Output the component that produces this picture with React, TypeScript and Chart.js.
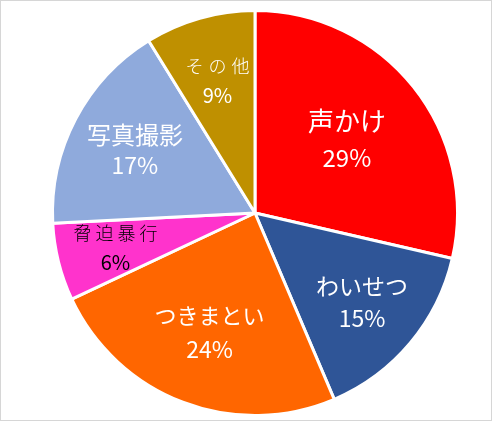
import React, { useEffect, useRef } from "react";
import { Chart, registerables } from "chart.js";

Chart.register(...registerables);

const categories = ["声かけ", "わいせつ", "つきまとい", "脅迫暴行", "写真撮影", "その他"];
const shares = [28.6, 15.0, 24.4, 6.2, 17.0, 8.8];
const sliceColors = ["#FF0000", "#2F5597", "#FF6600", "#FF33CC", "#8FAADC", "#BF9000"];

// label styling per slice
const labelRadial = [0.58, 0.69, 0.63, 0.71, 0.67, 0.68];
const nameSizes = [26, 23, 22, 18, 24, 18];
const nameWeights = [400, 400, 400, 300, 400, 300];
const pctSizes = [24, 23, 23, 20, 23, 20];
const nameSpacing = [0, 0, 0, 4, 0, 5];
const lineGaps = [37, 32, 34, 29, 31, 29];
const labelColors = ["#FFFFFF", "#FFFFFF", "#FFFFFF", "#000000", "#FFFFFF", "#FFFFFF"];

const FONT = '"Noto Sans CJK JP", "Noto Sans", sans-serif';

const labelPlugin = {
  id: "sliceLabels",
  afterDatasetsDraw(chart: any) {
    const ctx = chart.ctx;
    const meta = chart.getDatasetMeta(0);
    const total = shares.reduce((a, b) => a + b, 0);
    meta.data.forEach((arc: any, i: number) => {
      const { x, y, startAngle, endAngle, outerRadius } = arc.getProps(
        ["x", "y", "startAngle", "endAngle", "outerRadius"],
        true
      );
      const mid = (startAngle + endAngle) / 2;
      const r = outerRadius * labelRadial[i];
      const cx = x + Math.cos(mid) * r;
      const cy = y + Math.sin(mid) * r;
      const pct = Math.round((shares[i] / total) * 100) + "%";
      ctx.save();
      ctx.fillStyle = labelColors[i];
      ctx.textAlign = "center";
      ctx.textBaseline = "middle";
      ctx.font = `${nameWeights[i]} ${nameSizes[i]}px ${FONT}`;
      (ctx as any).letterSpacing = `${nameSpacing[i]}px`;
      ctx.fillText(categories[i], cx + nameSpacing[i] / 2, cy - lineGaps[i] / 2);
      (ctx as any).letterSpacing = "0px";
      ctx.font = `400 ${pctSizes[i]}px ${FONT}`;
      ctx.fillText(pct, cx, cy + lineGaps[i] / 2);
      ctx.restore();
    });
  },
};

export default function App() {
  const canvasRef = useRef<HTMLCanvasElement | null>(null);

  useEffect(() => {
    if (!canvasRef.current) return;
    const chart = new Chart(canvasRef.current, {
      type: "pie",
      data: {
        labels: categories,
        datasets: [
          {
            data: shares,
            backgroundColor: sliceColors,
            borderColor: "#FFFFFF",
            borderWidth: 3,
            hoverOffset: 0,
          },
        ],
      },
      options: {
        responsive: false,
        animation: false,
        devicePixelRatio: 1,
        layout: { padding: { left: 51, right: 34, top: 9, bottom: 5 } },
        plugins: {
          legend: { display: false },
          tooltip: { enabled: false },
        },
      },
      plugins: [labelPlugin],
    });
    return () => chart.destroy();
  }, []);

  return (
    <div
      style={{
        position: "absolute",
        left: 0,
        top: 0,
        width: 493,
        height: 422,
        background: "#FFFFFF",
      }}
    >
      <div
        style={{
          position: "absolute",
          left: 0,
          top: 0,
          width: 492,
          height: 421,
          boxSizing: "border-box",
          border: "1px solid #D6D6D6",
        }}
      />
      <canvas
        ref={canvasRef}
        width={493}
        height={422}
        style={{ position: "absolute", left: 0, top: 0, width: 493, height: 422 }}
      />
    </div>
  );
}
